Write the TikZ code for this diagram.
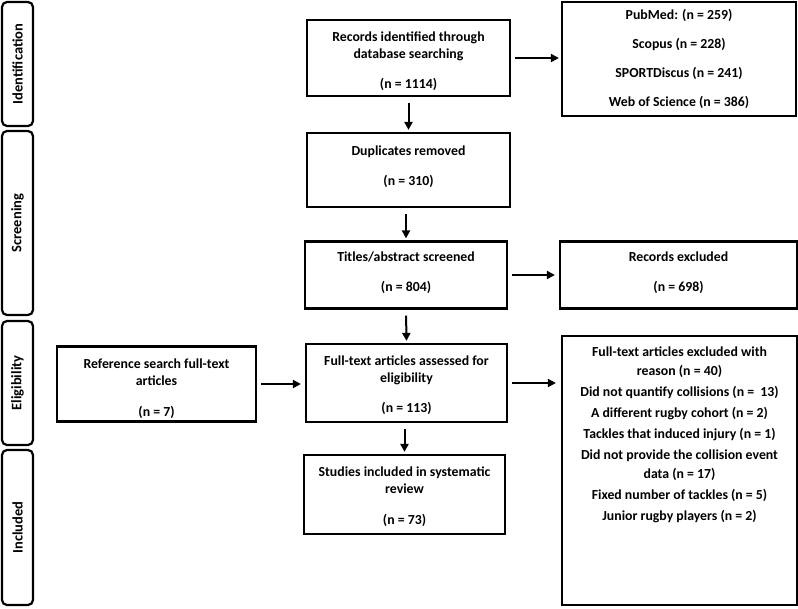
\documentclass[tikz,border=0pt]{standalone}
\usepackage{fontspec}
\setmainfont{Carlito}
\usetikzlibrary{arrows.meta}
\begin{document}
\begin{tikzpicture}[x=1pt,y=-1pt,
  every node/.style={font=\bfseries\fontsize{13.8}{17}\selectfont},
  box/.style={draw,line width=2.2pt,inner sep=0pt},
  txt/.style={align=center,anchor=north,inner sep=0pt},
  side/.style={draw,line width=2.2pt,rounded corners=5pt,inner sep=0pt},
  sidetext/.style={rotate=90,font=\bfseries\fontsize{14.5}{18}\selectfont},
  arr/.style={line width=2pt,-{Triangle[length=8pt,width=8pt]}},
]
\useasboundingbox (0,0) rectangle (798,608);
% side labels
\node[side,minimum width=31pt,minimum height=124pt] (sid) at (17.5,64) {};
\node[sidetext] (sidt) at (sid.center) {Identification};
\node[side,minimum width=31pt,minimum height=184pt] (sscr) at (17.5,223) {};
\node[sidetext] (sscrt) at (sscr.center) {Screening};
\node[side,minimum width=31pt,minimum height=124pt] (sel) at (17.5,383) {};
\node[sidetext] (selt) at (sel.center) {Eligibility};
\node[side,minimum width=31pt,minimum height=155pt] (sinc) at (17.5,527.5) {};
\node[sidetext] (sinct) at (sinc.center) {Included};
% main column
\node[box,minimum width=203pt,minimum height=76pt] (rec) at (408.5,58) {};
\node[txt] (rect) at (408.5,32) {Records identified through\\database searching\\[13pt](n = 1114)};
\node[box,minimum width=203pt,minimum height=74pt] (dup) at (408.5,170) {};
\node[txt] (dupt) at (408.5,146) {Duplicates removed\\[13pt](n = 310)};
\node[box,minimum width=202pt,minimum height=67pt] (tit) at (406,275) {};
\node[txt] (titt) at (406,252) {Titles/abstract screened\\[13pt](n = 804)};
\node[box,minimum width=201pt,minimum height=78pt] (ful) at (406.5,383) {};
\node[txt] (fult) at (406.5,356) {Full-text articles assessed for\\eligibility\\[13pt](n = 113)};
\node[box,minimum width=201pt,minimum height=79pt] (stu) at (404.5,494.5) {};
\node[txt] (stut) at (404.5,467) {Studies included in systematic\\review\\[14pt](n = 73)};
% right column
\node[box,minimum width=234pt,minimum height=114pt] (src) at (679,59) {};
\node[align=center,font=\bfseries\fontsize{13.8}{29}\selectfont] (srct) at (679,58.5) {PubMed: (n = 259)\\Scopus (n = 228)\\SPORTDiscus (n = 241)\\Web of Science (n = 386)};
\node[box,minimum width=237pt,minimum height=67pt] (exc) at (678.5,275) {};
\node[txt] (exct) at (678.5,252) {Records excluded\\[13pt](n = 698)};
\node[box,minimum width=235pt,minimum height=269pt] (rea) at (679.5,470.5) {};
\node[txt,font=\bfseries\fontsize{13.8}{21}\selectfont] (reat) at (679.5,347) {Full-text articles excluded with\\[-2pt]reason (n = 40)\\Did not quantify collisions (n =\ \ 13)\\A different rugby cohort (n = 2)\\Tackles that induced injury (n = 1)\\Did not provide the collision event\\[-2pt]data (n = 17)\\Fixed number of tackles (n = 5)\\Junior rugby players (n = 2)};
% left
\node[box,minimum width=199pt,minimum height=75pt] (ref) at (156.5,384) {};
\node[txt] (reft) at (156.5,359) {Reference search full-text\\articles\\[14pt](n = 7)};
% arrows
\draw[arr,shorten <=6pt,shorten >=2pt] (rec.south -| dup.north) -- (dup.north);
\draw[arr,shorten <=6pt,shorten >=2pt] (dup.south -| tit.north) -- (tit.north);
\draw[arr,shorten <=6pt,shorten >=2pt] (tit.south) -- (ful.north);
\draw[arr,shorten <=6pt,shorten >=2pt] (ful.south -| stu.north) -- (stu.north);
\draw[arr,shorten <=4pt,shorten >=2pt] (rec.east) -- (rec.east -| src.west);
\draw[arr,shorten <=4pt,shorten >=4pt] (tit.east) -- (exc.west);
\draw[arr,shorten <=4pt,shorten >=5pt] (ful.east) -- (ful.east -| rea.west);
\draw[arr,shorten <=4pt,shorten >=4pt] (ref.east) -- (ref.east -| ful.west);
\end{tikzpicture}
\end{document}
